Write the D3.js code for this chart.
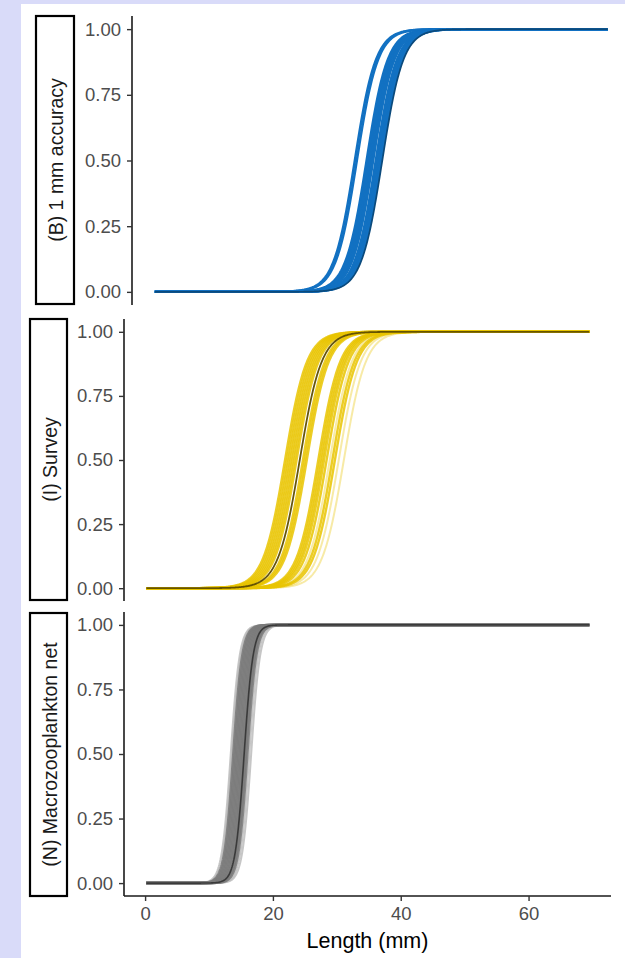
<!DOCTYPE html>
<html>
<head>
<meta charset="utf-8">
<script src="https://cdn.jsdelivr.net/npm/d3@7"></script>
<style>
  html, body { margin: 0; padding: 0; background: #d9dbf9; }
  svg { display: block; }
  text { font-family: "Liberation Sans", Arial, sans-serif; }
</style>
</head>
<body>
<script>
// Length grid (mm) on which each selectivity curve is evaluated
const lengthMin = 0.2, lengthMax = 69.5, lengthStep = 0.1;

// Panel labels
const panelLabels = ["(B) 1 mm accuracy", "(I) Survey", "(N) Macrozooplankton net"];

// Logistic selectivity draws: length at 50% retention (mm) and spread (mm)
const blueL50   = [30.8, 31.1, 32.6, 32.8, 33.0, 33.2, 33.4, 33.6, 34.0, 34.2, 34.4, 34.6, 34.8];
const blueSpread = 1.6;
const blueMainL50 = 35.0;

const yellowL50  = [21.9, 22.2, 22.5, 22.8, 23.1, 23.4, 23.7, 24.7, 25.0, 25.3,
                    27.1, 27.4, 27.7, 28.0, 28.4, 29.3, 29.7];
const yellowFaintL50 = [28.9, 30.3, 31.1];
const yellowSpread = 1.7;
const yellowMainL50 = 24.2;

const grayL50 = [13.8, 14.0, 14.2, 14.4, 14.6, 14.8, 15.0, 15.2, 15.4, 15.6, 15.8, 16.0];
const grayFaintL50 = [13.4, 13.6, 16.3, 16.6];
const graySpread = 0.7;
const grayMainL50 = 15.5;

// Axis ticks
const xTicks = [0, 20, 40, 60];
const yTicks = [0, 0.25, 0.5, 0.75, 1];

const W = 625, H = 958;
const svg = d3.select("body").append("svg").attr("width", W).attr("height", H);

// white figure area
svg.append("rect").attr("x", 21).attr("y", 4).attr("width", W - 21).attr("height", H - 4).attr("fill", "#fff");

const lengths = d3.range(lengthMin, lengthMax + 1e-9, lengthStep);
const logistic = (L, L50, s) => 1 / (1 + Math.exp(-(L - L50) / s));

const panels = [
  { label: panelLabels[0], axisX: 132, xRight: 630, yTop: 16, yBot: 305,
    strip: [36, 16, 38, 288],
    groups: [
      { l50: blueL50, s: blueSpread, color: "#1271c2", width: 2.5, opacity: 1 },
      { l50: [blueMainL50], s: blueSpread, color: "#0b4a7c", width: 1.7, opacity: 1 }
    ] },
  { label: panelLabels[1], axisX: 124, xRight: 611, yTop: 319, yBot: 601,
    strip: [30, 319, 37, 281],
    groups: [
      { l50: yellowFaintL50, s: yellowSpread, color: "#e9c400", width: 2.0, opacity: 0.35 },
      { l50: yellowL50, s: yellowSpread, color: "#e9c400", width: 2.4, opacity: 0.85 },
      { l50: [yellowMainL50], s: yellowSpread, color: "#5e4d00", width: 1.8, opacity: 0.95 }
    ] },
  { label: panelLabels[2], axisX: 124, xRight: 611, yTop: 612, yBot: 896, xAxis: true,
    strip: [30, 613, 37, 283],
    groups: [
      { l50: grayFaintL50, s: graySpread, color: "#b8b8b8", width: 2.0, opacity: 0.8 },
      { l50: grayL50, s: graySpread, color: "#7b7b7b", width: 2.5, opacity: 0.9 },
      { l50: [grayMainL50], s: graySpread, color: "#3a3a3a", width: 1.6, opacity: 1 }
    ] }
];

panels.forEach(p => {
  const x = d3.scaleLinear().domain([-3.3, 72.9]).range([p.axisX, p.xRight]);
  const y = d3.scaleLinear().domain([-0.05, 1.05]).range([p.yBot, p.yTop]);
  const g = svg.append("g");

  // strip label box
  const [sx, sy, sw, sh] = p.strip;
  g.append("rect").attr("x", sx).attr("y", sy).attr("width", sw).attr("height", sh)
    .attr("fill", "#fff").attr("stroke", "#000").attr("stroke-width", 2.2);
  g.append("text")
    .attr("transform", `translate(${sx + sw / 2 + 1},${sy + sh / 2}) rotate(-90)`)
    .attr("text-anchor", "middle").attr("dominant-baseline", "central")
    .attr("font-size", 19.5).attr("fill", "#1a1a1a").text(p.label);

  // curves
  const line = d3.line().x(d => x(d[0])).y(d => y(d[1])).curve(d3.curveLinear);
  p.groups.forEach(grp => {
    grp.l50.forEach(l50 => {
      g.append("path")
        .datum(lengths.map(L => [L, logistic(L, l50, grp.s)]))
        .attr("d", line).attr("fill", "none")
        .attr("stroke", grp.color).attr("stroke-width", grp.width)
        .attr("stroke-opacity", grp.opacity);
    });
  });

  // y axis
  const yAxis = d3.axisLeft(y).tickValues(yTicks).tickFormat(d3.format(".2f")).tickSize(5).tickPadding(6);
  const ya = g.append("g").attr("transform", `translate(${p.axisX},0)`).call(yAxis);
  ya.select(".domain").attr("d", `M0,${p.yTop}V${p.yBot}`).attr("stroke", "#1a1a1a").attr("stroke-width", 1.6);
  ya.selectAll(".tick line").attr("stroke", "#333").attr("stroke-width", 1.4);
  ya.selectAll(".tick text").attr("font-size", 18.5).attr("fill", "#4d4d4d")
    .attr("font-family", "Liberation Sans, Arial, sans-serif");

  if (p.xAxis) {
    const xAxis = d3.axisBottom(x).tickValues(xTicks).tickSize(5).tickPadding(6);
    const xa = g.append("g").attr("transform", `translate(0,${p.yBot})`).call(xAxis);
    xa.select(".domain").attr("d", `M${p.axisX},0H${p.xRight}`).attr("stroke", "#1a1a1a").attr("stroke-width", 1.6);
    xa.selectAll(".tick line").attr("stroke", "#333").attr("stroke-width", 1.4);
    xa.selectAll(".tick text").attr("font-size", 18.5).attr("fill", "#4d4d4d")
      .attr("font-family", "Liberation Sans, Arial, sans-serif");

    svg.append("text").attr("x", (p.axisX + p.xRight) / 2).attr("y", 948)
      .attr("text-anchor", "middle").attr("font-size", 21.5).attr("fill", "#000")
      .text("Length (mm)");
  }
});
</script>
</body>
</html>
